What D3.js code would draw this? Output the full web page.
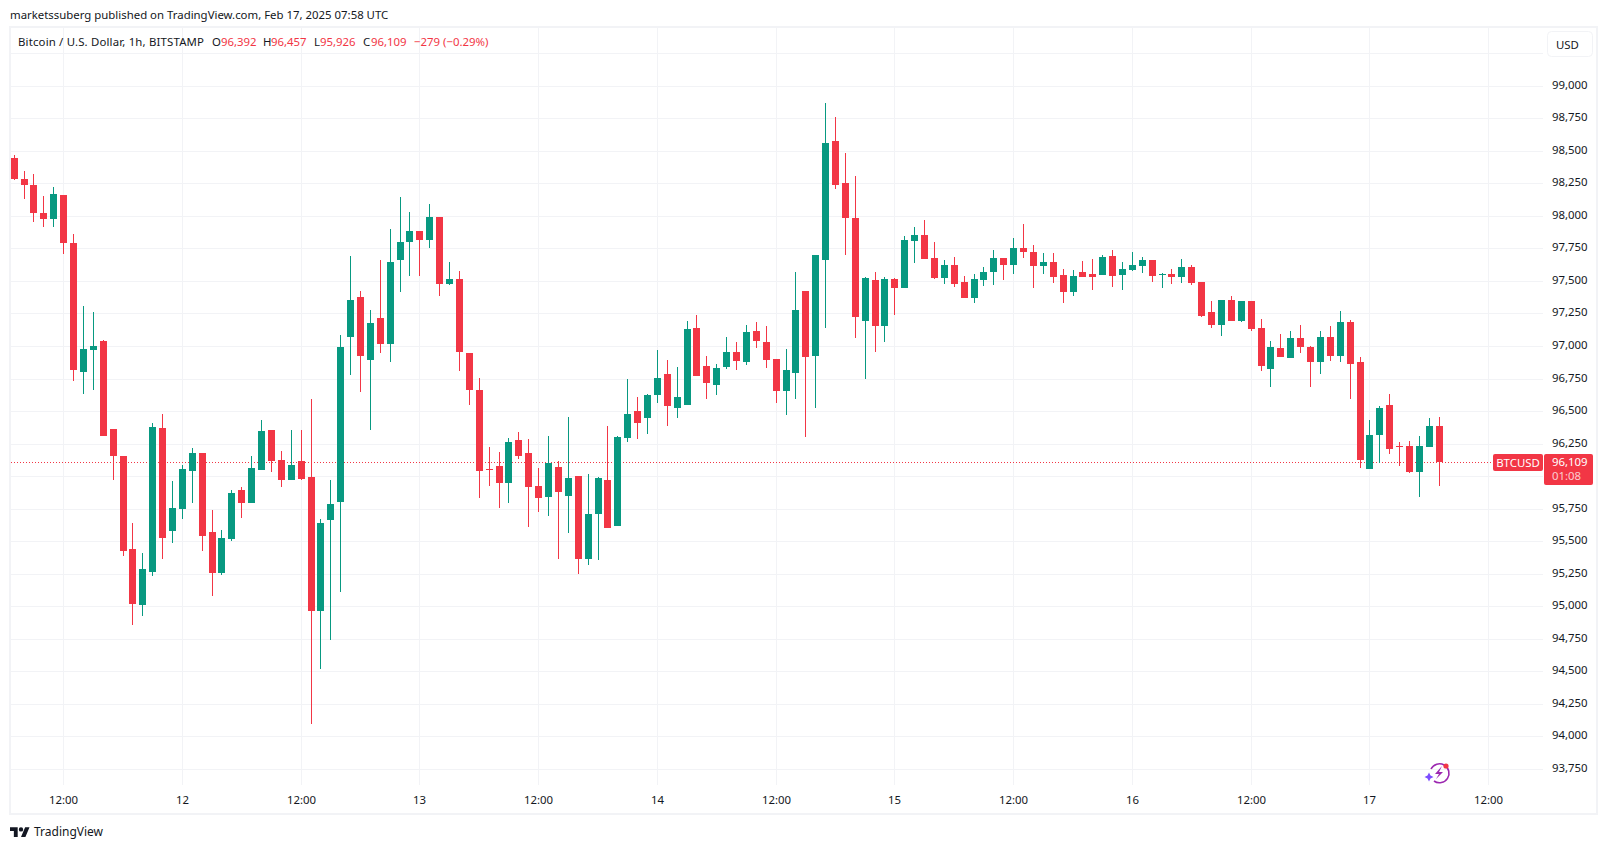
<!DOCTYPE html>
<html><head><meta charset="utf-8">
<script src="https://cdn.jsdelivr.net/npm/d3@7"></script>
<style>
html,body{margin:0;padding:0;background:#fff}
svg{display:block}
text{font-family:"Noto Sans",sans-serif;font-size:11.4px;fill:#131722}
</style></head><body>
<svg id="c" width="1607" height="849"></svg>
<script>
const opens=[98449,98287,98241,98026,97980,98164,97796,96804,96973,97042,96366,96158,95443,95013,95266,96373,95582,95751,96043,96181,95574,95259,95520,95897,95797,96050,96358,96127,95974,96120,95997,94967,95666,95805,97073,97380,96896,97219,97019,97665,97803,97888,97819,97995,97480,97519,96950,96665,96058,96081,95951,96281,96181,95927,95843,96074,95851,96004,95366,95712,95974,95620,96297,96504,96450,96627,96788,96527,96550,97142,96850,96704,96842,96958,96881,97119,97034,96904,96658,96796,97427,96927,97665,98580,98257,97988,97196,97511,97157,97519,97450,97811,97857,97680,97526,97626,97496,97373,97511,97573,97680,97626,97757,97726,97619,97649,97549,97419,97573,97557,97549,97696,97549,97588,97619,97665,97549,97557,97534,97611,97496,97265,97165,97357,97196,97350,97142,96827,96988,96911,97065,96996,96881,97073,96927,97188,96881,96058,96320,96550,96235,96235,96035,96227,96392];
const highs=[98472,98349,98326,98157,98226,98164,97865,97311,97265,97050,96366,96158,95643,95412,96412,96481,95966,96089,96220,96181,95743,95589,95897,95920,96158,96435,96358,96197,96358,96358,96596,95674,95974,97088,97696,97427,97280,97665,97903,98149,98034,97888,98095,97995,97649,97580,96950,96758,96227,96189,96297,96343,96289,96066,96312,96120,96458,96004,96020,95997,96389,96312,96750,96612,96635,96973,96896,96842,97196,97242,96927,96865,97073,97034,97165,97188,97157,96904,96981,97573,97427,97703,98872,98764,98487,98310,97534,97573,97534,97526,97849,97918,97972,97803,97665,97688,97542,97557,97611,97742,97680,97834,97941,97780,97719,97719,97596,97588,97657,97672,97703,97742,97649,97726,97688,97665,97565,97596,97672,97626,97496,97350,97357,97388,97350,97350,97211,97042,97096,97119,97165,97004,97119,97157,97273,97204,96919,96435,96543,96635,96266,96273,96312,96450,96457];
const lows=[98280,98134,97957,97918,97918,97711,96735,96635,96665,96312,95974,95389,94859,94928,95236,95366,95489,95674,95797,95428,95082,95243,95505,95682,95797,96050,96035,95920,95974,95974,94098,94521,94744,95113,96781,96650,96358,96950,96881,97419,97542,97542,97757,97388,97473,96812,96550,95835,95927,95758,95797,96135,95612,95728,95697,95366,95566,95251,95320,95359,95605,95620,96266,96289,96327,96566,96389,96450,96550,96773,96596,96627,96827,96819,96858,96988,96835,96566,96473,96596,96304,96527,97142,98211,97703,97065,96750,96958,97034,97242,97450,97642,97672,97519,97480,97457,97373,97334,97465,97473,97511,97557,97680,97450,97557,97488,97334,97388,97534,97434,97549,97457,97434,97580,97565,97496,97450,97480,97488,97473,97227,97142,97081,97196,97188,97119,96812,96689,96919,96911,96950,96689,96788,96888,96881,96596,96066,96058,96104,96174,96081,96027,95843,96227,95926];
const closes=[98287,98241,98026,97980,98172,97796,96819,96981,97004,96312,96158,95428,95020,95289,96381,95528,95758,96058,96181,95543,95259,95528,95874,95797,96066,96350,96120,95974,96089,95981,94967,95643,95789,96996,97357,96927,97181,97019,97649,97803,97888,97819,97995,97480,97519,96958,96665,96043,96050,95951,96266,96158,95920,95835,96104,95881,95989,95366,95712,95989,95605,96304,96481,96412,96627,96758,96543,96612,97134,96773,96719,96835,96958,96888,97111,97042,96896,96658,96819,97280,96919,97703,98564,98241,97988,97227,97526,97157,97519,97450,97819,97857,97672,97526,97626,97480,97373,97519,97573,97680,97626,97757,97726,97619,97649,97534,97419,97542,97534,97534,97688,97542,97596,97626,97665,97542,97557,97534,97611,97488,97234,97165,97357,97196,97350,97134,96850,96996,96919,97065,96996,96881,97073,96927,97188,96865,96127,96320,96527,96212,96227,96035,96235,96389,96109];
const priceTicks=[99250,99000,98750,98500,98250,98000,97750,97500,97250,97000,96750,96500,96250,96000,95750,95500,95250,95000,94750,94500,94250,94000,93750];
const timeTickBars=[5,17,29,41,53,65,77,89,101,113,125,137,149];
const timeTickLabels=["12:00","12","12:00","13","12:00","14","12:00","15","12:00","16","12:00","17","12:00"];
const legendText=["Bitcoin / U.S. Dollar, 1h, BITSTAMP","O","96,392","H","96,457","L","95,926","C","96,109","−279","(−0.29%)"];
const legendX=[18,212,221,263,271,314,320,363,371,414,443];
const legendIsValue=[0,0,1,0,1,0,1,0,1,1,1];
const RED="#f23645",GREEN="#089981",GRID="#f2f3f6",FRAME="#f2f3f6",INK="#131722";

const svg=d3.select("#c");
const x=d3.scaleLinear().domain([0,149]).range([14.15,1488.65]);
const y=d3.scaleLinear().domain([99000,93750]).range([86.3,769.3]);
const L=11,R=1543,T=28,B=785;

// grid + axes
const yAxis=d3.axisRight(y).tickValues(priceTicks).tickSizeInner(-(R-L)).tickSizeOuter(0).tickPadding(9)
  .tickFormat(d=>d===99250?"":d3.format(",")(d));
const gy=svg.append("g").attr("transform",`translate(${R},0)`).call(yAxis);
const xAxis=d3.axisBottom(x).tickValues(timeTickBars).tickSizeInner(-(B-T)).tickSizeOuter(0).tickPadding(11)
  .tickFormat((d,i)=>timeTickLabels[i]);
const gx=svg.append("g").attr("transform",`translate(0,${B})`).call(xAxis);
[gx,gy].forEach(g=>{g.select(".domain").remove();g.selectAll("line").attr("stroke",GRID).attr("shape-rendering","crispEdges");
  g.attr("font-family",null).attr("font-size",null);});
gx.selectAll(".tick").attr("transform",d=>`translate(${Math.floor(x(d))+.5},0)`);
gy.selectAll(".tick").attr("transform",d=>`translate(0,${Math.floor(y(d))+.5})`);
gy.selectAll("text").attr("y",-1);

// frame
svg.append("rect").attr("x",10).attr("y",27).attr("width",1587).attr("height",787).attr("fill","none").attr("stroke",FRAME).attr("stroke-width",2);

// last price line
const lastY=Math.floor(y(closes[144]))+.5;
svg.append("line").attr("x1",L).attr("x2",1493).attr("y1",lastY).attr("y2",lastY)
  .attr("stroke",RED).attr("stroke-width",1).attr("stroke-dasharray","1 2").attr("shape-rendering","crispEdges");

// candles
svg.append("clipPath").attr("id","plot").append("rect").attr("x",L).attr("y",T).attr("width",R-L).attr("height",B-T);
const data=d3.range(opens.length).map(i=>({i,o:opens[i],h:highs[i],l:lows[i],c:closes[i]}));
const gc=svg.append("g").attr("clip-path","url(#plot)").attr("shape-rendering","crispEdges");
const col=d=>d.c>=d.o?GREEN:RED;
gc.selectAll(".wick").data(data).join("rect").attr("class","wick")
  .attr("x",d=>Math.floor(x(d.i))).attr("width",1)
  .attr("y",d=>Math.round(y(d.h))).attr("height",d=>Math.max(1,Math.round(y(d.l))-Math.round(y(d.h))))
  .attr("fill",col);
gc.selectAll(".body").data(data).join("rect").attr("class","body")
  .attr("x",d=>Math.floor(x(d.i))-3).attr("width",7)
  .attr("y",d=>Math.round(y(Math.max(d.o,d.c)))).attr("height",d=>Math.max(1,Math.round(y(Math.min(d.o,d.c)))-Math.round(y(Math.max(d.o,d.c)))))
  .attr("fill",col);

// header & legend
svg.append("text").attr("x",10).attr("y",19).text("marketssuberg published on TradingView.com, Feb 17, 2025 07:58 UTC");
svg.append("g").selectAll("text").data(legendText).join("text")
  .attr("x",(d,i)=>legendX[i]).attr("y",46).style("fill",(d,i)=>legendIsValue[i]?RED:INK)
  .style("letter-spacing",(d,i)=>i===0?"0.17px":null).text(d=>d);

// USD button
svg.append("rect").attr("x",1547.5).attr("y",31.5).attr("width",45).attr("height",25).attr("rx",4).attr("fill","#fff").attr("stroke",FRAME);
svg.append("text").attr("x",1556).attr("y",48.5).text("USD");

// price tags
svg.append("rect").attr("x",1493).attr("y",454).attr("width",50).attr("height",17).attr("rx",2).attr("fill",RED);
svg.append("text").attr("x",1518).attr("y",467).attr("text-anchor","middle").style("fill","#fff").text("BTCUSD");
svg.append("rect").attr("x",1544).attr("y",454).attr("width",49).attr("height",31).attr("rx",2).attr("fill",RED);
svg.append("text").attr("x",1552).attr("y",466).style("fill","#fff").text("96,109");
svg.append("text").attr("x",1552).attr("y",480).style("fill","#fff").style("fill-opacity",.75).text("01:08");

// spark icon
const ic=svg.append("g").attr("transform","translate(1439,773)");
ic.append("path").attr("d","M-8,-4A9.5,9.5 0 1 1 -5,8").attr("fill","none").attr("stroke","#9c27b0").attr("stroke-width",1.6);
ic.append("path").attr("d","M3,-7L-4,1L0,1L-3,6L4,-1L0,-1Z").attr("fill","#9c27b0");
ic.append("circle").attr("cx",7).attr("cy",-7).attr("r",2.6).attr("fill",RED);
ic.append("path").attr("d","M-10,-0.5L-8.5,2.5L-5.5,4L-8.5,5.5L-10,8.5L-11.5,5.5L-14.5,4L-11.5,2.5Z").attr("fill","#7c4dff");

// TradingView logo
svg.append("path").attr("transform","translate(10,825) scale(.55)")
  .attr("d","M14 22H7V11H0V4h14v18zM28 22h-8l7.5-18h8L28 22zM20 4a4 4 0 1 1 0 8 4 4 0 0 1 0-8z").attr("fill",INK);
svg.append("text").attr("x",34).attr("y",836).style("font-size","12px").text("TradingView");
</script>
</body></html>
